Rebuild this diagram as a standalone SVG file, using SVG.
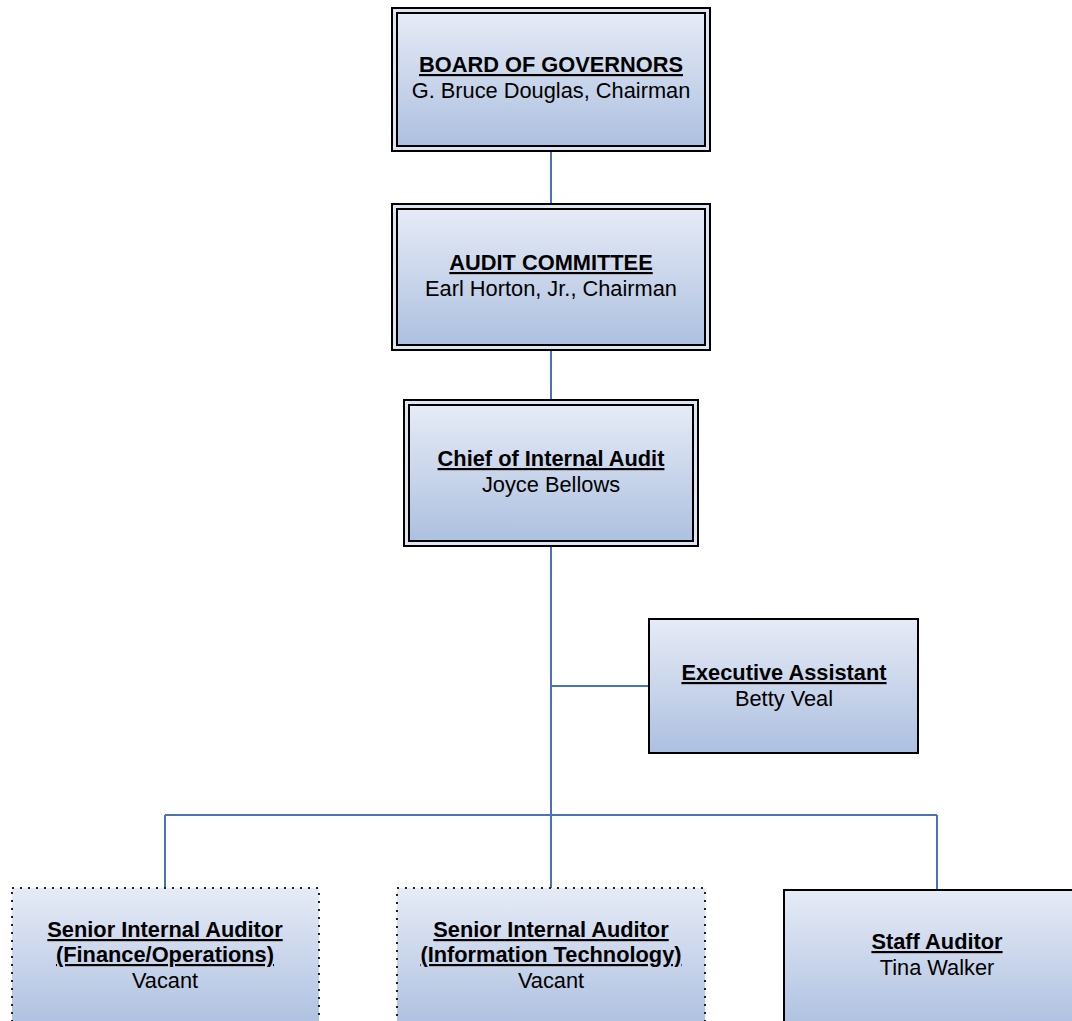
<svg xmlns="http://www.w3.org/2000/svg" width="1072" height="1021" viewBox="0 0 1072 1021">
<defs>
<linearGradient id="g" x1="0" y1="0" x2="0" y2="1">
<stop offset="0" stop-color="#e6ebf6"/>
<stop offset="1" stop-color="#adc0e0"/>
</linearGradient>
<style>
.t{font-family:"Liberation Sans",Arial,sans-serif;font-size:21.8px;fill:#000;text-anchor:middle}
.b{font-weight:bold;text-decoration:underline}
.o{fill:#dde5f3;stroke:#000;stroke-width:2}
.i{fill:url(#g);stroke:#000;stroke-width:2}
.s{fill:url(#g);stroke:#000;stroke-width:2}
.d{fill:url(#g);stroke:#222;stroke-width:2;stroke-dasharray:2 6}
.c{fill:none;stroke:#4a72b8;stroke-width:2}
</style>
</defs>
<rect width="1072" height="1021" fill="#fff"/>
<g id="connectors">
<path class="c" d="M551 151V203M551 350V399M551 546V888M551 686H649M165 815H937M165 815V888M937 815V890"/>
</g>
<g id="board">
<rect class="o" x="392" y="8" width="318" height="143"/>
<rect class="i" x="397" y="13" width="308" height="133"/>
<text class="t b" x="551" y="72">BOARD OF GOVERNORS</text>
<text class="t" x="551" y="98">G. Bruce Douglas, Chairman</text>
</g>
<g id="audit">
<rect class="o" x="392" y="204" width="318" height="146"/>
<rect class="i" x="397" y="209" width="308" height="136"/>
<text class="t b" x="551" y="270">AUDIT COMMITTEE</text>
<text class="t" x="551" y="296">Earl Horton, Jr., Chairman</text>
</g>
<g id="chief">
<rect class="o" x="404" y="400" width="294" height="146"/>
<rect class="i" x="409" y="405" width="284" height="136"/>
<text class="t b" x="551" y="466">Chief of Internal Audit</text>
<text class="t" x="551" y="492">Joyce Bellows</text>
</g>
<g id="exec">
<rect class="s" x="649" y="619" width="269" height="134"/>
<text class="t b" x="784" y="680">Executive Assistant</text>
<text class="t" x="784" y="706">Betty Veal</text>
</g>
<g id="sia-fin">
<rect class="d" x="12" y="888" width="307" height="140"/>
<text class="t b" x="165" y="937">Senior Internal Auditor</text>
<text class="t b" x="165" y="962">(Finance/Operations)</text>
<text class="t" x="165" y="988">Vacant</text>
</g>
<g id="sia-it">
<rect class="d" x="397" y="888" width="308" height="140"/>
<text class="t b" x="551" y="937">Senior Internal Auditor</text>
<text class="t b" x="551" y="962">(Information Technology)</text>
<text class="t" x="551" y="988">Vacant</text>
</g>
<g id="staff">
<rect class="s" x="784" y="890" width="300" height="140"/>
<text class="t b" x="937" y="949">Staff Auditor</text>
<text class="t" x="937" y="975">Tina Walker</text>
</g>
</svg>
